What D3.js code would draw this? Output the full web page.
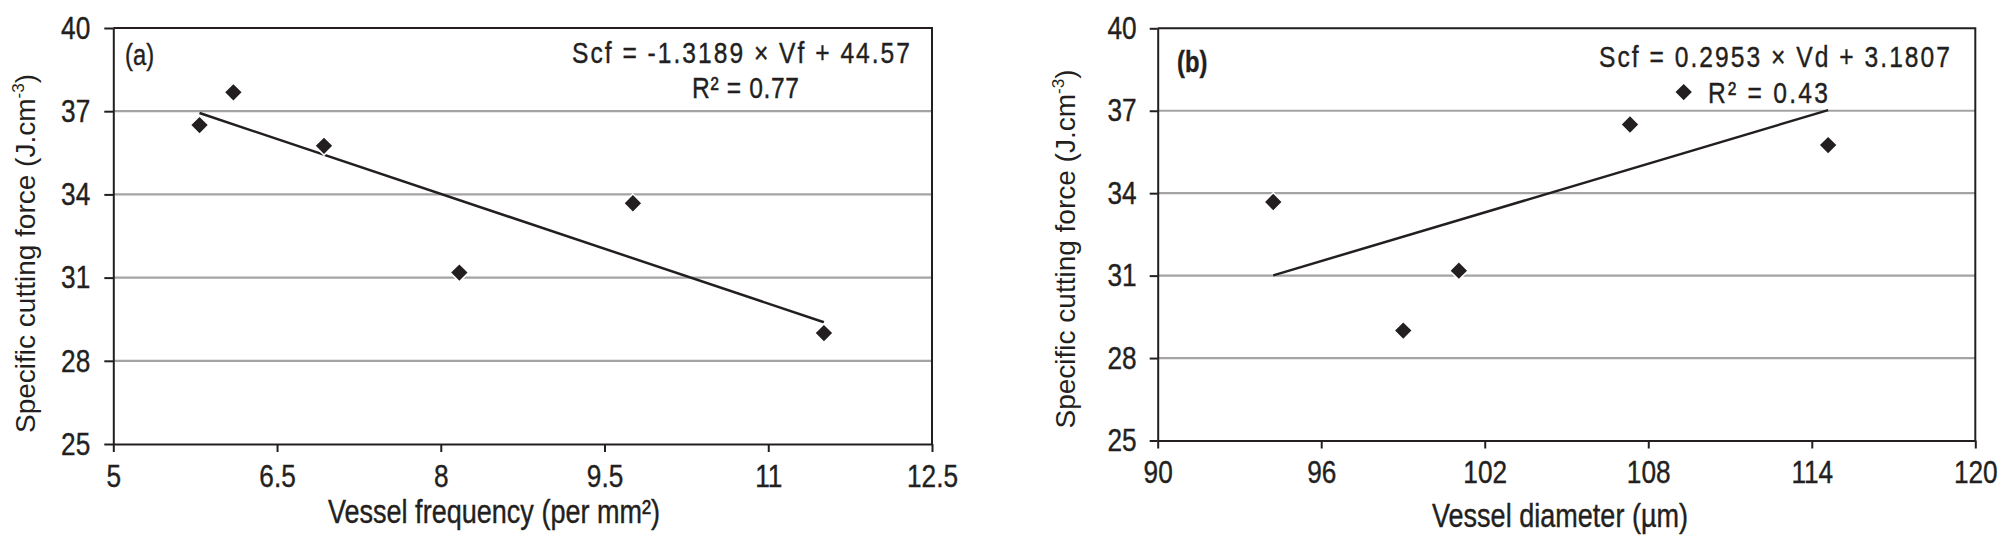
<!DOCTYPE html>
<html>
<head>
<meta charset="utf-8">
<script src="https://cdnjs.cloudflare.com/ajax/libs/d3/7.8.5/d3.min.js"></script>
<style>
  body { margin: 0; background: #fff; }
  svg { display: block; }
</style>
</head>
<body>
<svg id="chart" width="2012" height="543"></svg>
<script>
// specific cutting force for the six samples, shared by both panels
var scf = [36.5, 37.68, 35.75, 31.18, 33.68, 29.0];
var vesselFreq = [5.79, 6.10, 6.93, 8.17, 9.76, 11.51];
var vesselDiam = [107.33, 109.3, 114.6, 101.05, 94.24, 99.01];

var yTicks = [25, 28, 31, 34, 37, 40];
var freqTicks = [5, 6.5, 8, 9.5, 11, 12.5];
var diamTicks = [90, 96, 102, 108, 114, 120];

// trendline: slope, intercept
var trendA = [-1.3189, 44.57];
var trendB = [0.2953, 3.1807];
var eqA = ["Scf = -1.3189 \u00d7 Vf + 44.57", "R\u00b2 = 0.77"];
var eqB = ["Scf = 0.2953 \u00d7 Vd + 3.1807", "R\u00b2 = 0.43"];

// no condensed face installed, so squeeze Liberation Sans horizontally
var SQ = 0.82;
var sans = "'Liberation Sans', Arial, Helvetica, sans-serif";
var ink = "#231f20";

var svg = d3.select("#chart");
svg.append("rect").attr("width", 2012).attr("height", 543).attr("fill", "#fff");

function narrowText(g, x, y, size, str) {
    return g.append("text")
        .attr("transform", "translate(" + x + "," + y + ") scale(" + SQ + ",1)")
        .attr("font-family", sans)
        .attr("font-size", size)
        .attr("fill", ink)
        .attr("stroke", ink)
        .attr("stroke-width", 0.4)
        .text(str);
}

function drawPanel(p) {
    var x = d3.scaleLinear()
        .domain([p.ticks[0], p.ticks[p.ticks.length - 1]])
        .range([p.left, p.right]);
    var y = d3.scaleLinear()
        .domain([yTicks[0], yTicks[yTicks.length - 1]])
        .range([p.bottom, p.top]);

    var g = svg.append("g");

    // horizontal gridlines
    g.selectAll(".grid")
        .data(yTicks.slice(1, -1))
        .enter()
        .append("line")
        .attr("class", "grid")
        .attr("x1", p.left)
        .attr("x2", p.right)
        .attr("y1", function(d) { return y(d); })
        .attr("y2", function(d) { return y(d); })
        .attr("stroke", "#a3a3a3")
        .attr("stroke-width", 2.2);

    // top and right frame
    g.append("path")
        .attr("d", "M" + p.left + "," + p.top + "H" + p.right + "V" + p.bottom)
        .attr("fill", "none")
        .attr("stroke", ink)
        .attr("stroke-width", 2);

    var xAxisCall = d3.axisBottom(x)
        .tickValues(p.ticks)
        .tickSize(8)
        .tickSizeOuter(0)
        .tickPadding(12)
        .tickFormat(function(d) { return String(d); });

    var yAxisCall = d3.axisLeft(y)
        .tickValues(yTicks)
        .tickSize(p.ytick)
        .tickSizeOuter(0)
        .tickPadding(p.ypad)
        .tickFormat(function(d) { return String(d); });

    var gx = g.append("g")
        .attr("class", "x axis")
        .attr("transform", "translate(0," + p.bottom + ")")
        .call(xAxisCall);

    var gy = g.append("g")
        .attr("class", "y axis")
        .attr("transform", "translate(" + p.left + ",0)")
        .call(yAxisCall);

    [gx, gy].forEach(function(a) {
        a.attr("color", ink)
            .attr("font-family", sans)
            .attr("font-size", 32);
        a.selectAll("path, line").attr("stroke-width", 2);
        a.selectAll("text")
            .attr("fill", ink)
            .attr("stroke", ink)
            .attr("stroke-width", 0.4)
            .attr("transform", "scale(" + SQ + ",1)");
    });
    gy.selectAll("text").attr("x", -(p.ytick + p.ypad) / SQ);

    // trendline across the range of the data
    var ext = d3.extent(p.xs);
    g.append("line")
        .attr("x1", x(ext[0]))
        .attr("y1", y(p.trend[0] * ext[0] + p.trend[1]))
        .attr("x2", x(ext[1]))
        .attr("y2", y(p.trend[0] * ext[1] + p.trend[1]))
        .attr("stroke", ink)
        .attr("stroke-width", 2.5);

    var diamond = d3.symbol().type(d3.symbolSquare).size(170);

    g.selectAll(".pt")
        .data(p.xs)
        .enter()
        .append("path")
        .attr("class", "pt")
        .attr("d", diamond)
        .attr("transform", function(d, i) {
            return "translate(" + x(d) + "," + y(scf[i]) + ") rotate(45)";
        })
        .attr("fill", ink)
        .attr("stroke", "#fff")
        .attr("stroke-width", 1.5);

    // equation box
    p.eq.forEach(function(s, i) {
        narrowText(g, p.eqPos[i][0], p.eqPos[i][1], 30, s)
            .attr("textLength", p.eqPos[i][2] / SQ)
            .attr("lengthAdjust", "spacing");
    });

    // panel letter
    narrowText(g, p.tag[0], p.tag[1], 29, p.tag[2])
        .attr("font-weight", p.tagBold ? "bold" : "normal");

    // x title
    narrowText(g, p.xTitle[0], p.xTitle[1], 33, p.xTitle[2])
        .attr("text-anchor", "middle");

    // y title with superscript
    var yt = g.append("text")
        .attr("transform", "translate(" + p.yTitle[0] + "," + p.yTitle[1] + ") rotate(-90)")
        .attr("text-anchor", "middle")
        .attr("font-family", sans)
        .attr("font-size", 28)
        .attr("fill", ink);
    yt.append("tspan").text("Specific cutting force (J.cm");
    yt.append("tspan").attr("dy", -11).attr("font-size", 17).text("-3");
    yt.append("tspan").attr("dy", 11).text(")");
}

drawPanel({
    left: 113.3, right: 932, top: 28, bottom: 444,
    ytick: 9, ypad: 14,
    ticks: freqTicks,
    xs: vesselFreq,
    trend: trendA,
    eq: eqA,
    eqPos: [[572, 62.7, 338], [692, 98.3, 107]],
    tag: [125, 65, "(a)"],
    tagBold: false,
    xTitle: [494, 523.3, "Vessel frequency (per mm\u00b2)"],
    yTitle: [34.5, 253.5]
});

drawPanel({
    left: 1157.7, right: 1975.3, top: 28.3, bottom: 440.5,
    ytick: 8, ypad: 13,
    ticks: diamTicks,
    xs: vesselDiam,
    trend: trendB,
    eq: eqB,
    eqPos: [[1599, 66.5, 351], [1708, 103, 120]],
    tag: [1177, 72, "(b)"],
    tagBold: true,
    xTitle: [1560, 527, "Vessel diameter (\u00b5m)"],
    yTitle: [1074.5, 249]
});
</script>
</body>
</html>
